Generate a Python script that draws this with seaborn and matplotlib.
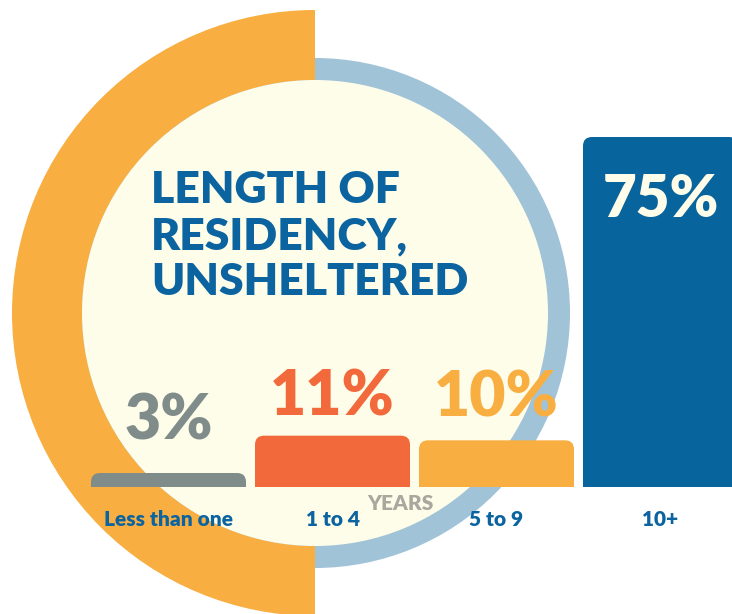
import matplotlib
matplotlib.use("Agg")
import matplotlib.pyplot as plt
import seaborn as sns
from matplotlib.patches import Circle, Wedge, FancyBboxPatch

# data
categories = ["Less than one", "1 to 4", "5 to 9", "10+"]
values = [3, 11, 10, 75]
bar_colors = ["#7f8c8a", "#f26a3b", "#f8ae40", "#07649c"]
label_colors = ["#7f8c8a", "#f26a3b", "#f8ae40", "#fefde9"]
title = "LENGTH OF\nRESIDENCY,\nUNSHELTERED"
axis_label = "YEARS"

sns.set_theme(style="white")
plt.rcParams["font.family"] = ["Lato", "DejaVu Sans"]

W, H = 732, 614
fig = plt.figure(figsize=(W / 100, H / 100), dpi=100)
fig.patch.set_facecolor("white")

# background in pixel coordinates
bg = fig.add_axes([0, 0, 1, 1])
bg.set_xlim(0, W)
bg.set_ylim(H, 0)
bg.axis("off")

cx, cy = 315, 313
bg.add_patch(Circle((cx, cy), 255, color="#a0c3d8", lw=0))
bg.add_patch(Wedge((cx, cy), 303, 90, 270, width=70, color="#f8ae40", lw=0))
bg.add_patch(Circle((cx, cy), 233, color="#fefde9", lw=0))

bg.text(151, 236, title, color="#0b64a0", fontsize=32, fontweight="heavy",
        ha="left", va="center", linespacing=1.19)
bg.text(400, 503, axis_label, color="#a9a89f", fontsize=15, fontweight="heavy",
        ha="center", va="center")

# bars: 164 px per category, 4.667 px per percent
pitch = 164
px_per_pct = 350 / 75
left = 168.5 - pitch / 2
base = 487
axb = fig.add_axes([left / W, (H - base) / H, 4 * pitch / W, 100 * px_per_pct / H])
axb.patch.set_alpha(0)
sns.barplot(x=categories, y=values, hue=categories, palette=bar_colors,
            legend=False, width=155 / pitch, saturation=1, ax=axb)
axb.set_xlim(-0.5, 3.5)
axb.set_ylim(0, 100)
axb.axis("off")

r = 9 / pitch
aspect = pitch / px_per_pct
for p, c in zip(list(axb.patches), bar_colors):
    x0, w, h = p.get_x(), p.get_width(), p.get_height()
    p.remove()
    axb.add_patch(FancyBboxPatch((x0, -3), w, h + 3,
                                 boxstyle=f"round,pad=0,rounding_size={r}",
                                 mutation_aspect=aspect, fc=c, ec="none",
                                 clip_on=True))

# percentage labels (offset in px from bar top)
offsets = [52, 39, 42, -62]
sizes = [45, 45, 45, 42]
for i, (v, col, off, fs) in enumerate(zip(values, label_colors, offsets, sizes)):
    axb.text(i, v + off / px_per_pct, f"{v}%", color=col, fontsize=fs,
             fontweight="heavy", ha="center", va="center")
    axb.text(i, -33 / px_per_pct, categories[i], color="#0b64a0", fontsize=15,
             fontweight="heavy", ha="center", va="center", clip_on=False)

fig.savefig("out.png", dpi=100)
